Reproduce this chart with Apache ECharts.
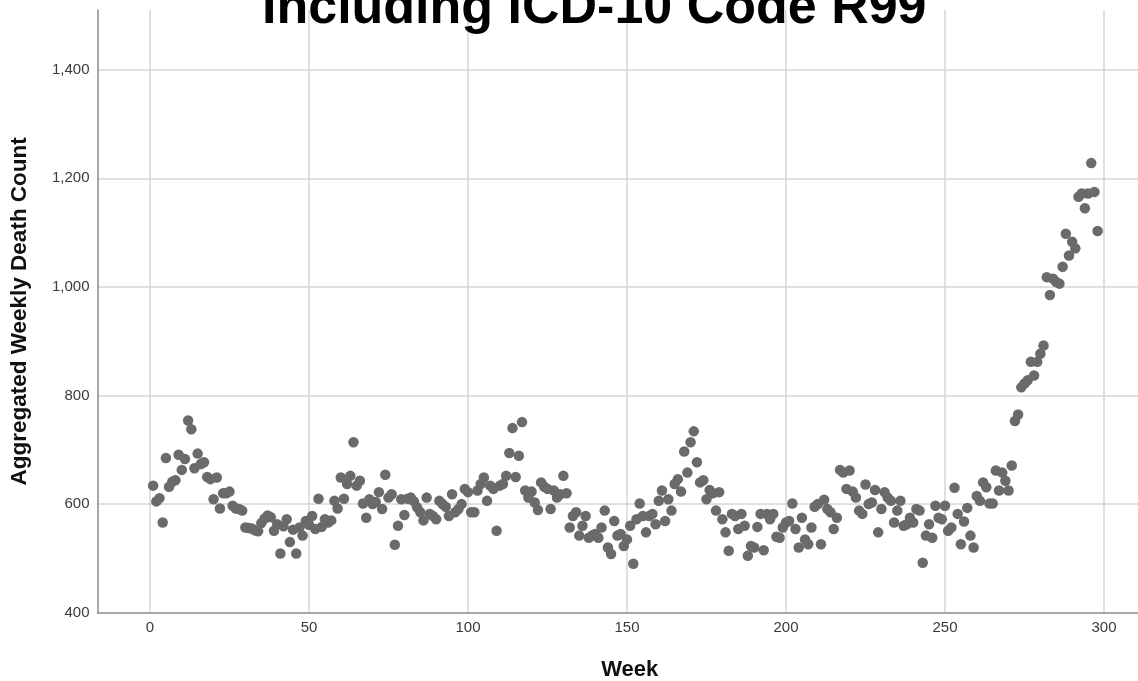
<!DOCTYPE html>
<html>
<head>
<meta charset="utf-8">
<script src="https://cdn.jsdelivr.net/npm/echarts@6/dist/echarts.min.js"></script>
<style>
html,body{margin:0;padding:0;background:#fff;}
#chart{width:1138px;height:681px;}
</style>
</head>
<body>
<div id="chart"></div>
<script>
// Aggregated weekly death counts, weeks 1..298
var deaths = [
  634,605,611,566,685,632,641,644,691,663,
  683,754,738,666,693,674,677,650,646,609,
  649,592,620,620,623,597,592,591,588,557,
  556,555,552,550,565,573,579,576,551,563,
  509,559,572,530,553,509,557,542,569,562,
  578,554,610,558,572,566,570,606,592,649,
  610,637,652,714,634,643,601,575,609,600,
  604,622,591,654,612,618,525,560,609,580,
  610,612,605,594,585,570,612,582,578,572,
  606,600,595,578,618,585,591,600,628,622,
  585,585,625,637,649,606,634,628,551,634,
  637,652,694,740,650,689,751,625,612,623,
  603,589,640,632,628,591,625,612,618,652,
  620,557,578,585,542,560,578,538,542,545,
  538,557,588,520,508,569,542,545,523,535,
  560,490,572,601,578,548,578,582,563,606,
  625,569,609,588,637,646,623,697,658,714,
  734,677,640,644,609,626,620,588,622,572,
  548,514,582,578,554,582,560,505,523,520,
  558,582,515,582,572,582,540,538,557,566,
  569,601,554,520,575,535,526,557,595,600,
  526,608,591,585,554,575,663,658,628,662,
  623,612,588,582,636,600,603,626,548,591,
  622,612,606,566,588,606,560,563,575,566,
  591,588,492,542,563,538,597,575,572,597,
  551,557,630,582,526,568,593,542,520,615,
  606,640,631,601,601,662,625,658,643,625,
  671,753,765,815,822,828,862,837,862,877,
  892,1018,985,1015,1009,1006,1037,1098,1058,1083,
  1071,1166,1172,1145,1172,1228,1175,1103
];
var firstWeek = 1;
var yTicks = [400, 600, 800, 1000, 1200, 1400];
var xTicks = [0, 50, 100, 150, 200, 250, 300];
var titleText = 'Including ICD-10 Code R99';
var xName = 'Week';
var yName = 'Aggregated Weekly Death Count';

var points = deaths.map(function (v, i) { return [firstWeek + i, v]; });

var chart = echarts.init(document.getElementById('chart'), null, {renderer: 'canvas'});
var labelStyle = {fontFamily: 'Liberation Sans, Arial, sans-serif', fontSize: 15, color: '#3a3a3a'};
chart.setOption({
  animation: false,
  backgroundColor: '#ffffff',
  title: {
    text: titleText,
    left: 262,
    top: -17,
    padding: 0,
    textStyle: {fontFamily: 'Liberation Sans, Arial, sans-serif', fontSize: 52, fontWeight: 'bold', color: '#000'}
  },
  grid: {left: 97.5, right: 0, top: 10, bottom: 68.3, containLabel: false, outerBoundsMode: 'none'},
  xAxis: {
    type: 'value',
    min: -16.5,
    max: 310.7,
    splitNumber: 6,
    name: xName,
    nameLocation: 'middle',
    nameGap: 46,
    nameTextStyle: {fontFamily: 'Liberation Sans, Arial, sans-serif', fontSize: 22, fontWeight: 'bold', color: '#111', padding: [0, 0, 0, 24]},
    axisLine: {show: true, onZero: false, lineStyle: {color: '#8c8c8c', width: 1.5}},
    axisTick: {show: false},
    axisLabel: Object.assign({margin: 8, showMinLabel: false, showMaxLabel: false,
      formatter: function (v) { return xTicks.indexOf(v) >= 0 ? String(v) : ''; }}, labelStyle),
    splitLine: {show: true, showMinLine: false, showMaxLine: false, lineStyle: {color: '#d6d6d6', width: 1.5}}
  },
  yAxis: {
    type: 'value',
    min: 400,
    max: 1510,
    interval: 200,
    name: yName,
    nameLocation: 'middle',
    nameRotate: 90,
    nameGap: 66,
    nameTextStyle: {fontFamily: 'Liberation Sans, Arial, sans-serif', fontSize: 22.5, fontWeight: 'bold', color: '#111'},
    axisLine: {show: true, onZero: false, lineStyle: {color: '#8c8c8c', width: 1.5}},
    axisTick: {show: false},
    axisLabel: Object.assign({margin: 8, showMaxLabel: false,
      formatter: function (v) { return yTicks.indexOf(v) >= 0 ? v.toLocaleString('en-US') : ''; }}, labelStyle),
    splitLine: {show: true, showMinLine: false, showMaxLine: false, lineStyle: {color: '#d6d6d6', width: 1.5}}
  },
  series: [{
    type: 'scatter',
    data: points,
    symbol: 'circle',
    symbolSize: 10.5,
    itemStyle: {color: '#6a6a6a', opacity: 1},
    z: 3
  }]
});
</script>
</body>
</html>
